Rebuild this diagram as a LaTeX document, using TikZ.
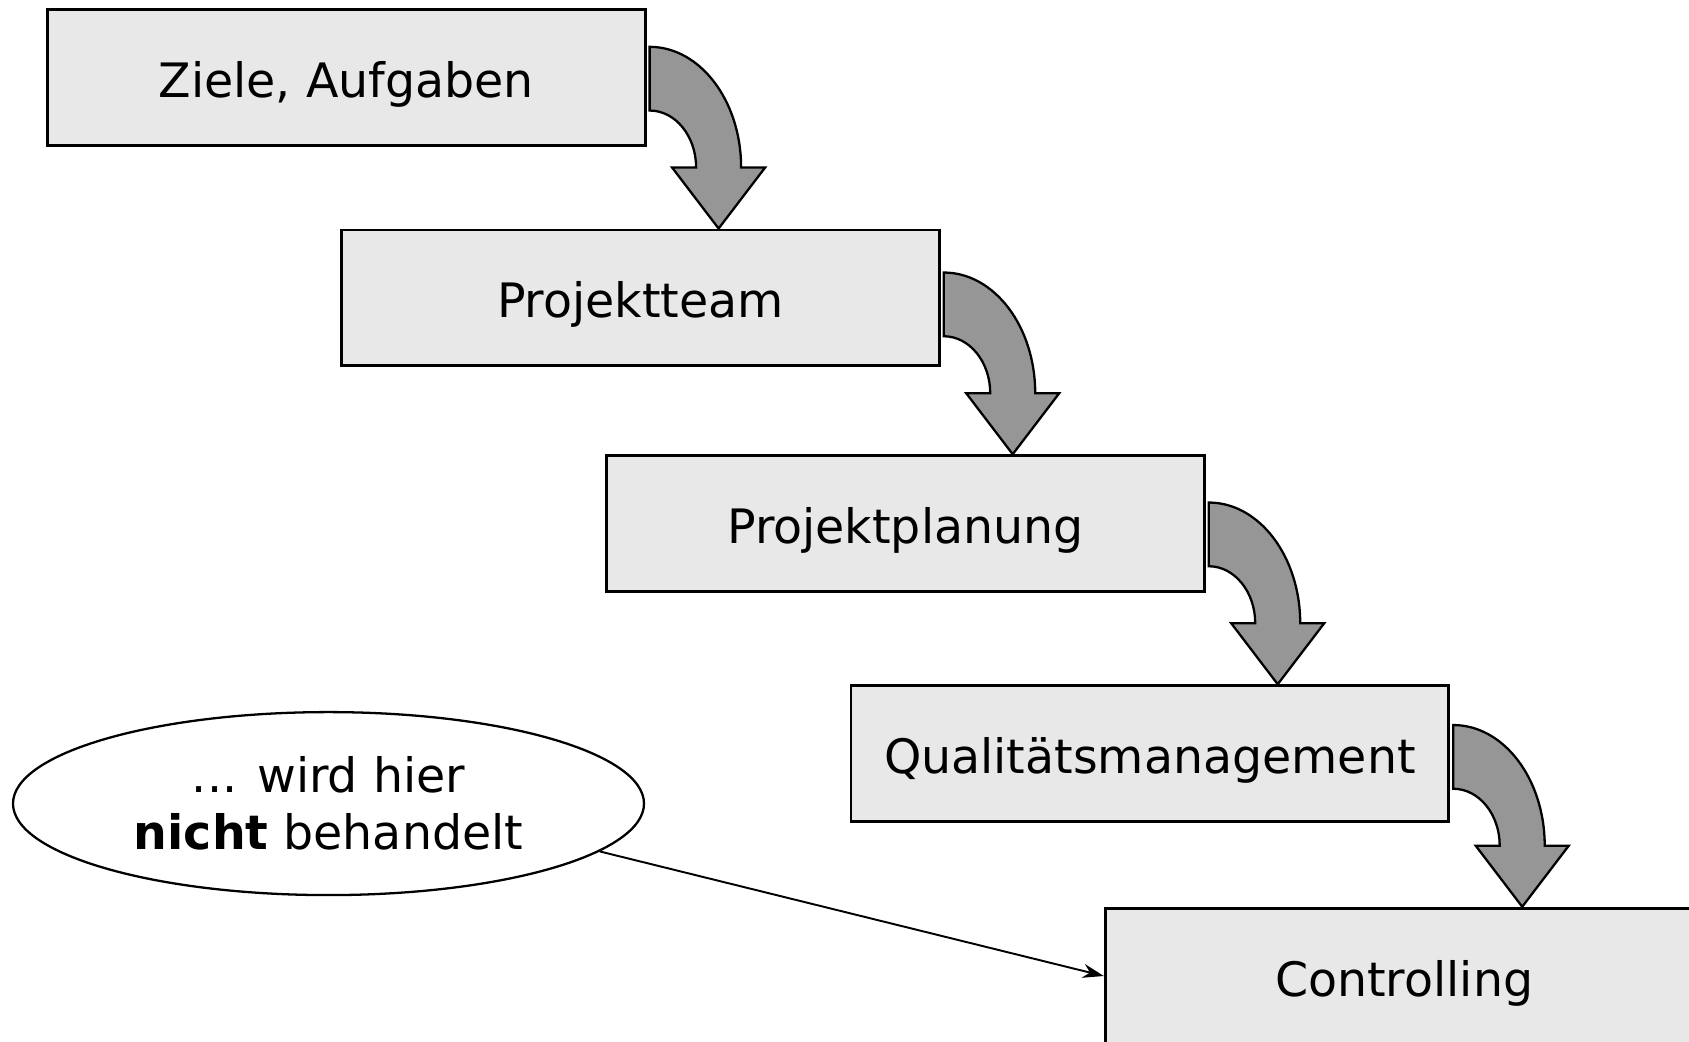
\documentclass[tikz,border=0pt]{standalone}
\usepackage{fontspec}
\setmainfont{DejaVu Sans}
\usetikzlibrary{calc,shapes.geometric,arrows.meta}

\definecolor{boxfill}{gray}{0.91}
\definecolor{arrowfill}{gray}{0.59}

\tikzset{
  stage/.style={draw=black, fill=boxfill, line width=1.6pt,
    minimum width=597.8*0.02cm, minimum height=135.7*0.02cm,
    inner sep=0pt, text height=28pt, text depth=5pt,
    font=\fontsize{27}{32.4}\selectfont},
  bendarrow/.style={draw=black, fill=arrowfill, line width=1.3pt, line join=miter},
  note/.style={ellipse, draw=black, line width=1.3pt,
    minimum width=631*0.02cm, minimum height=183*0.02cm, inner sep=0pt,
    align=center, font=\fontsize{27}{32.4}\selectfont},
  link/.style={draw=black, line width=1.1pt, -{Stealth[length=12pt,width=8pt]}}
}

% curved block arrow leaving the right side of #1 and pointing onto the top of #2
\newcommand\stagearrow[2]{%
  \begin{scope}[shift={($(#1.east |- #2.north)+(3,61)$)}]
    \draw[bendarrow] (0,120.7)
      .. controls (50.5,120.7) and (91.5,66.7) .. (91.5,0)
      -- (115.5,0) -- (69,-61) -- (22.5,0) -- (46.5,0)
      .. controls (46.5,31.5) and (25.7,57) .. (0,57) -- cycle;
  \end{scope}}

\begin{document}
\begin{tikzpicture}[x=0.02cm, y=0.02cm]
  \useasboundingbox (0,0) rectangle (1689,1041);
  \clip (0,0) rectangle (1689,1041);
  \fill[white] (0,0) rectangle (1689,1041);

  \node[stage] (ziele)    at (346.3,963.4)  {Ziele, Aufgaben};
  \node[stage] (team)     at (640.4,743.2)  {Projektteam};
  \node[stage] (planung)  at (905.4,517.5)  {Projektplanung};
  \node[stage] (qm)       at (1149.9,287.5) {Qualitätsmanagement};
  \node[stage] (ctrl)     at (1404.1,65)    {Controlling};

  \stagearrow{ziele}{team}
  \stagearrow{team}{planung}
  \stagearrow{planung}{qm}
  \stagearrow{qm}{ctrl}

  \node[note] (remark) at (328.5,237.4) {... wird hier\\\textbf{nicht} behandelt};
  \draw[link] (remark.-10.4) -- (ctrl.west);
\end{tikzpicture}
\end{document}
